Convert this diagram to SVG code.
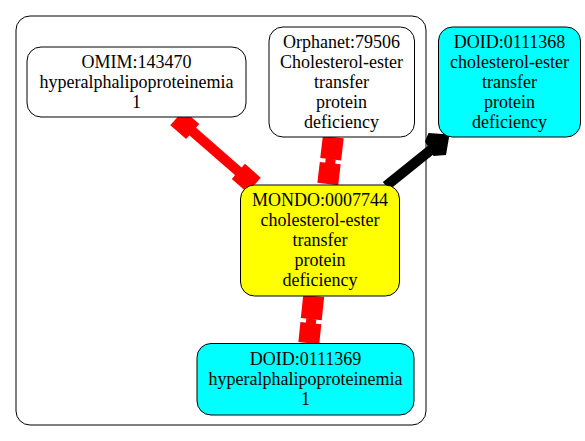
<svg xmlns="http://www.w3.org/2000/svg" width="585" height="441" viewBox="0 0 585 441">
<style>
.n{stroke:#000;stroke-width:1}
.w{fill:#fff}.c{fill:#00ffff}.y{fill:#ffff00}
text{font-family:"Liberation Serif","Times New Roman",serif;font-size:18px;text-anchor:middle;fill:#000}
.red{fill:#ff0000}
</style>
<rect width="585" height="441" fill="#fff"/>
<g id="cluster">
<rect x="16" y="16" width="410" height="409" rx="14" fill="none" stroke="#000" stroke-width="1"/>
</g>
<g id="connectors">
<g transform="translate(176.9,117.7) rotate(41.15)">
<rect class="red" x="0" y="-10" width="21" height="20"/>
<rect class="red" x="20" y="-5" width="62.6" height="10"/>
<rect class="red" x="81.6" y="-10" width="21" height="20"/>
</g>
<g transform="translate(333.3,137) rotate(6.7)">
<rect class="red" x="-10.5" y="0" width="21" height="22.5"/>
<rect class="red" x="-5" y="22" width="10" height="5"/>
<rect class="red" x="-10.5" y="26.3" width="21" height="21"/>
</g>
<g transform="translate(313.7,296) rotate(5.95)">
<rect class="red" x="-10.5" y="0" width="21" height="23.3"/>
<rect class="red" x="-5" y="23" width="10" height="5"/>
<rect class="red" x="-10.5" y="27.3" width="21" height="20"/>
</g>
<line x1="386" y1="186" x2="432" y2="149" stroke="#000" stroke-width="10"/>
<polygon points="425,141.5 428.5,133 449.5,134.5 446,155 433.5,156" fill="#000"/>
</g>
<g id="omim">
<rect class="n w" x="27" y="47" width="219" height="70" rx="14"/>
<text x="136.5" y="67.5">OMIM:143470</text>
<text x="136.5" y="87.5">hyperalphalipoproteinemia</text>
<text x="136.5" y="107.5">1</text>
</g>
<g id="orphanet">
<rect class="n w" x="269" y="27" width="145.5" height="110" rx="14"/>
<text x="341.5" y="47.5">Orphanet:79506</text>
<text x="341.5" y="67.5">Cholesterol-ester</text>
<text x="341.5" y="87.5">transfer</text>
<text x="341.5" y="107.5">protein</text>
<text x="341.5" y="127.5">deficiency</text>
</g>
<g id="doid0111368">
<rect class="n c" x="438.5" y="27" width="142" height="110" rx="14"/>
<text x="509.5" y="47.5">DOID:0111368</text>
<text x="509.5" y="67.5">cholesterol-ester</text>
<text x="509.5" y="87.5">transfer</text>
<text x="509.5" y="107.5">protein</text>
<text x="509.5" y="127.5">deficiency</text>
</g>
<g id="mondo">
<rect class="n y" x="240.5" y="185" width="159" height="111" rx="14"/>
<text x="320" y="206">MONDO:0007744</text>
<text x="320" y="226">cholesterol-ester</text>
<text x="320" y="246">transfer</text>
<text x="320" y="266">protein</text>
<text x="320" y="286">deficiency</text>
</g>
<g id="doid0111369">
<rect class="n c" x="197" y="343.5" width="217" height="71.5" rx="14"/>
<text x="305.5" y="364.5">DOID:0111369</text>
<text x="305.5" y="384.5">hyperalphalipoproteinemia</text>
<text x="305.5" y="404.5">1</text>
</g>
</svg>
